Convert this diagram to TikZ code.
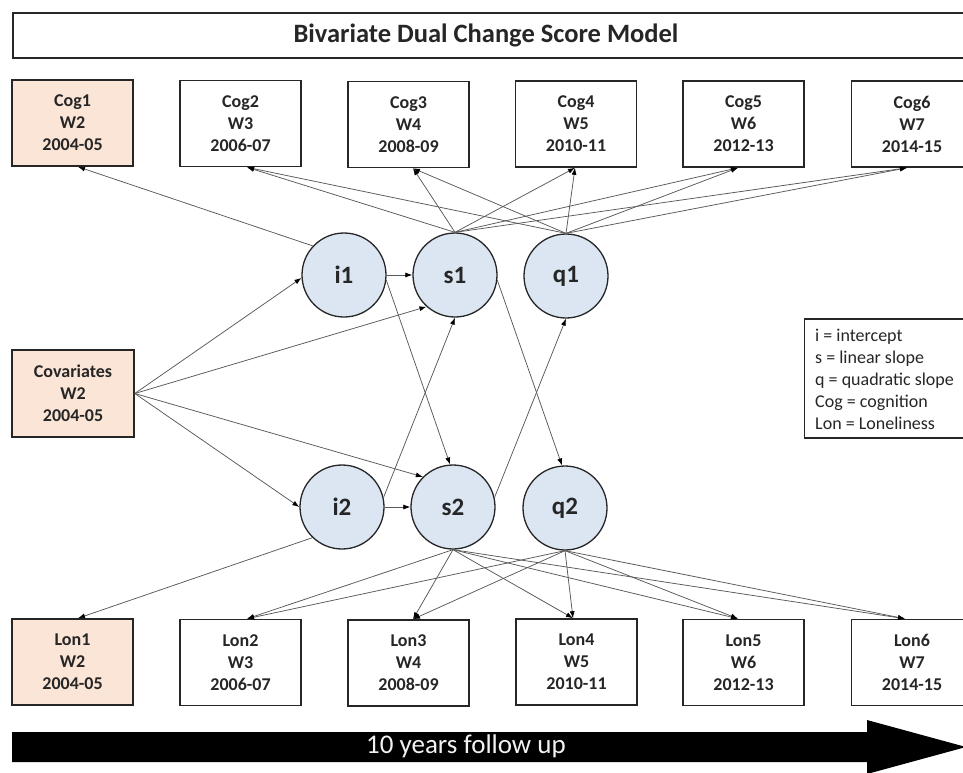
\documentclass[tikz,border=0pt]{standalone}
\usepackage{fontspec}
\setmainfont{Carlito}
\usetikzlibrary{arrows.meta}
\definecolor{lblue}{RGB}{220,230,242}
\definecolor{lorange}{RGB}{251,229,214}
\definecolor{ink}{RGB}{38,38,38}
\begin{document}
\begin{tikzpicture}[x=1pt,y=-1pt,
  box/.style={draw=ink, line width=1.6pt, minimum width=121pt, minimum height=86pt,
    inner sep=0pt, align=center, text=ink, font=\fontsize{18}{22}\selectfont\bfseries},
  obox/.style={box, fill=lorange},
  lat/.style={circle, draw=ink, line width=1.3pt, fill=lblue, minimum size=84pt,
    inner sep=0pt, text=ink, font=\fontsize{25}{28}\selectfont\bfseries},
  conn/.style={draw=black!65, line width=0.75pt, -{Latex[length=7pt,width=5pt,color=black]}}
]
\useasboundingbox (0,0) rectangle (963,772);
\fill[white] (0,0) rectangle (963,772);

% title
\node[draw=ink, line width=1.6pt, minimum width=958pt, minimum height=45pt, anchor=west, inner sep=0pt] (titlebox) at (12,35.5) {};
\node[text=ink, font=\fontsize{26.5}{29}\selectfont\bfseries] (title) at (486,35.5) {Bivariate Dual Change Score Model};

% cognition boxes
\node[obox] (cog1) at (72.5,123)  {Cog1\\W2\\2004-05};
\node[box]  (cog2) at (240.5,123.5) {Cog2\\W3\\2006-07};
\node[box]  (cog3) at (408.5,124.5) {Cog3\\W4\\2008-09};
\node[box]  (cog4) at (576,124)   {Cog4\\W5\\2010-11};
\node[box]  (cog5) at (743.5,124) {Cog5\\W6\\2012-13};
\node[box]  (cog6) at (912,124)   {Cog6\\W7\\2014-15};

% covariates
\node[obox, minimum width=122pt, minimum height=87pt] (cov) at (73,393.5) {Covariates\\W2\\2004-05};

% loneliness boxes
\node[obox] (lon1) at (72.5,662)  {Lon1\\W2\\2004-05};
\node[box]  (lon2) at (240.5,662.5) {Lon2\\W3\\2006-07};
\node[box]  (lon3) at (408.5,663) {Lon3\\W4\\2008-09};
\node[box]  (lon4) at (576.5,662) {Lon4\\W5\\2010-11};
\node[box]  (lon5) at (743.5,662.5) {Lon5\\W6\\2012-13};
\node[box]  (lon6) at (912,662.5) {Lon6\\W7\\2014-15};

% latent factors
\node[lat] (i1) at (344,275) {i1};
\node[lat] (s1) at (455,275) {s1};
\node[lat] (q1) at (566,276) {q1};
\node[lat] (i2) at (342,507) {i2};
\node[lat] (s2) at (453,507) {s2};
\node[lat] (q2) at (565,508) {q2};

% legend
\node[draw=ink, line width=1.2pt, minimum width=170pt, minimum height=119pt, anchor=west, inner sep=0pt] (legendbox) at (804,378.5) {};
\node[anchor=west, align=left, inner sep=0pt, text=ink, font=\fontsize{18}{22}\selectfont] (legend) at (815,379.5)
  {i = intercept\\s = linear slope\\q = quadratic slope\\Cog = cognition\\Lon = Loneliness};

% top loadings
\draw[conn] (i1.137) -- ([xshift=5.5pt]cog1.south);
\foreach \b/\dx in {cog2/6.5,cog3/4.5,cog4/-1,cog5/-5.5,cog6/-5}{
  \draw[conn] (s1.north) -- ([xshift=\dx pt]\b.south);
  \draw[conn] (q1.north) -- ([xshift=\dx pt]\b.south);
}

% bottom loadings
\draw[conn] (i2.226) -- ([xshift=5.5pt]lon1.north);
\foreach \b/\dx in {lon2/6.5,lon3/4.5,lon4/-3.5,lon5/-5.5,lon6/-7}{
  \draw[conn] (s2.south) -- ([xshift=\dx pt]\b.north);
  \draw[conn] (q2.south) -- ([xshift=\dx pt]\b.north);
}

% covariate paths
\draw[conn] (cov.east) -- (i1.184);
\draw[conn] (cov.east) -- (s1.228);
\draw[conn] (cov.east) -- (i2.west);
\draw[conn] (cov.east) -- (s2.135);

% structural paths
\draw[conn] (i1.east) -- (s1.west);
\draw[conn] (i2.east) -- (s2.west);
\draw[conn] (i1.-7) -- (s2.94);
\draw[conn] (i2.13) -- (s1.south);
\draw[conn] (s1.-7) -- (q2.94);
\draw[conn] (s2.13) -- (q1.south);

% time arrow
\fill[black] (12,732) -- (867,732) -- (867,720) -- (966,747) -- (867,774) -- (867,762) -- (12,762) -- cycle;
\node[text=white!95!black, font=\fontsize{27}{30}\selectfont] (follow) at (466,746) {10 years follow up};
\end{tikzpicture}
\end{document}
